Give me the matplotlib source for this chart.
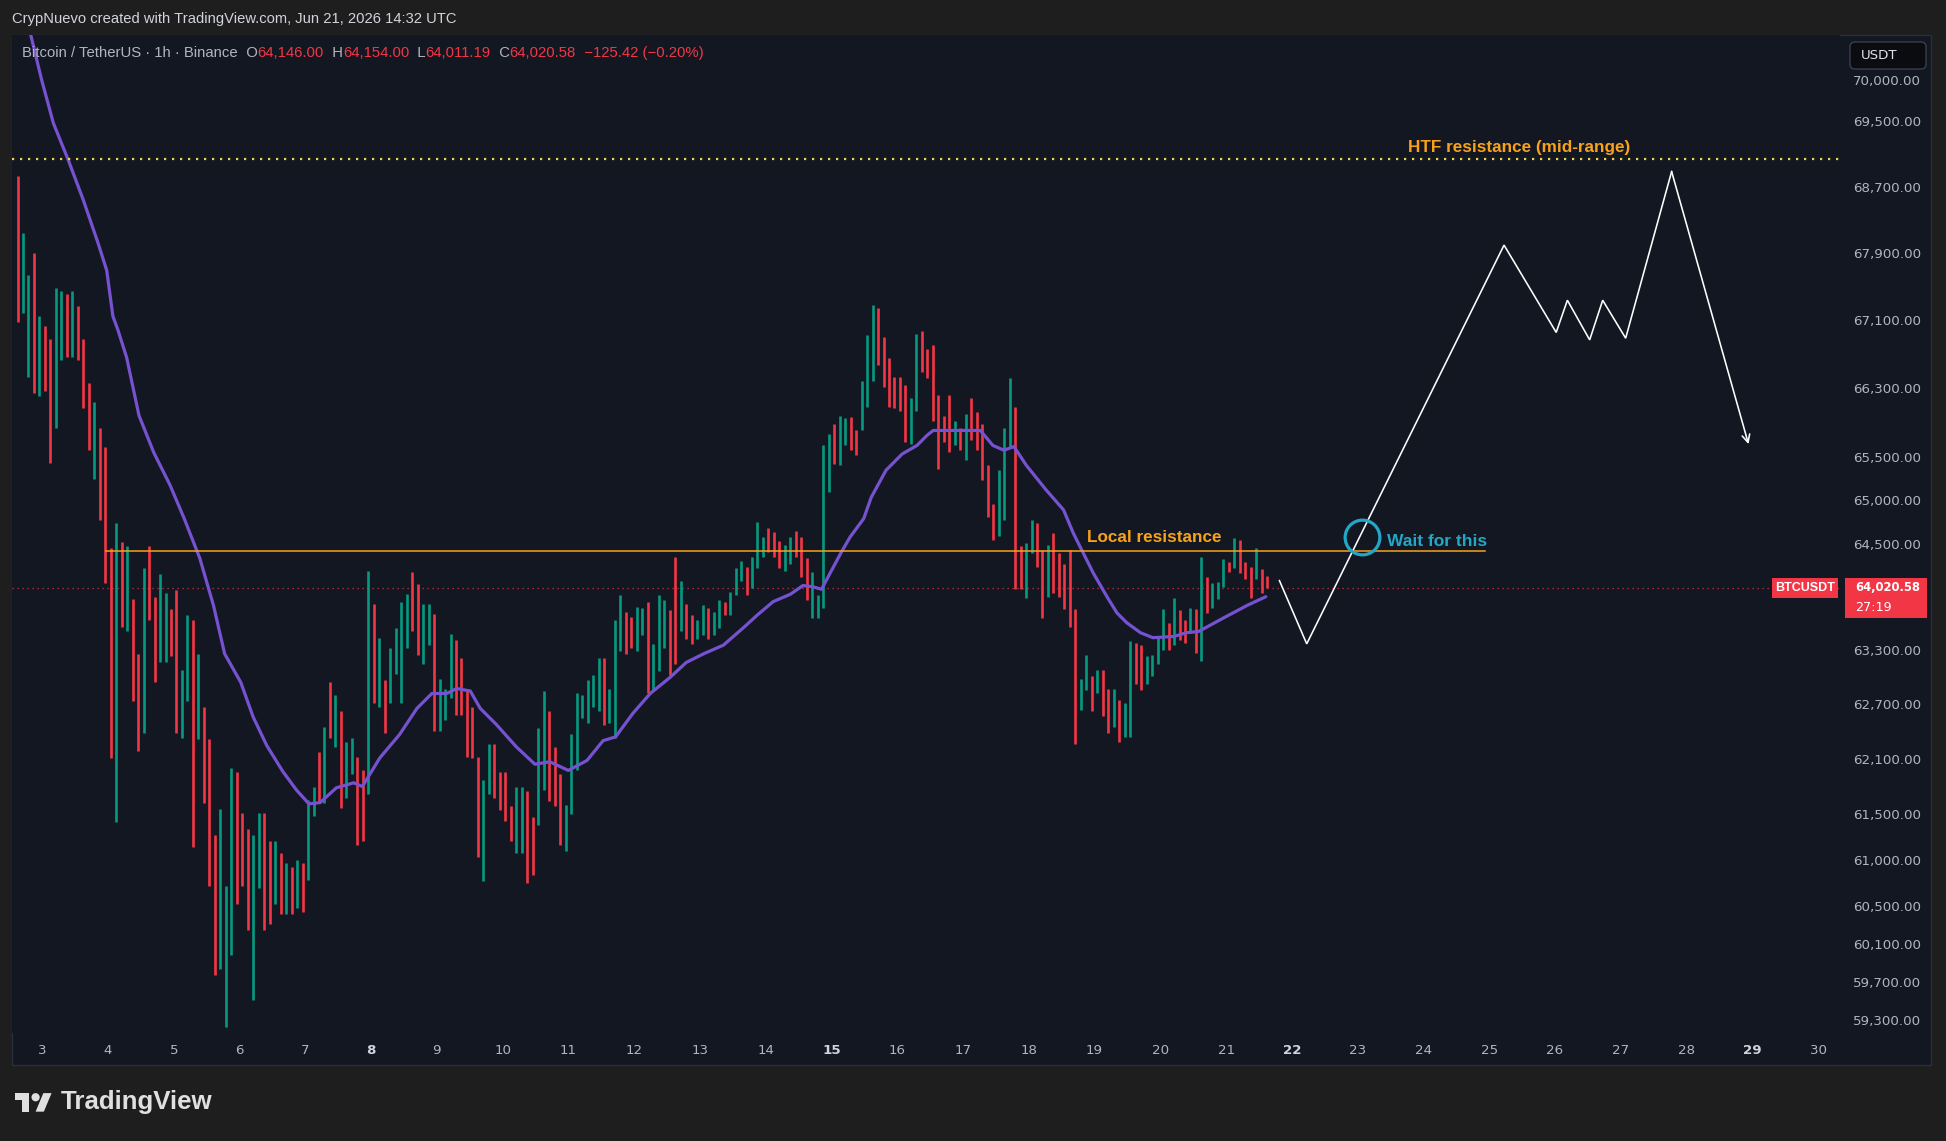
import numpy as np
import matplotlib
matplotlib.use("Agg")
import matplotlib.pyplot as plt
from matplotlib.patches import Rectangle, FancyBboxPatch, Polygon, Circle
from matplotlib.transforms import IdentityTransform

plt.rcParams['font.family'] = ['DejaVu Sans']

# ---------------- data ----------------
# 2-hour BTCUSDT candles starting Jun 2, 14:00 UTC (x axis = day of June)
start_day = 2 + 14 / 24
bar_days = 2 / 24

highs = [
    68845, 68155, 67648, 67916, 67161, 67044, 66897, 67500, 67456, 67426,
    67456, 67279, 66897, 66372, 66154, 65850, 65634, 64466, 64749, 64536,
    64494, 63889, 63276, 64240, 64494, 63917, 64170, 63959, 63777, 63987,
    63096, 63707, 63651, 63276, 62683, 62327, 61285, 61567, 60737, 62014,
    61973, 61527, 61352, 61285, 61527, 61527, 61218, 61218, 61084, 60977,
    60937, 61017, 60977, 61661, 61810, 62190, 62463, 62958, 62820, 62642,
    62299, 62340, 62136, 61986, 64212, 63833, 63456, 62986, 63345, 63567,
    63861, 63945, 64198, 64057, 63833, 63833, 63721, 63000, 62889, 63498,
    63429, 63234, 62861, 62683, 62136, 61878, 62272, 62272, 61973, 61973,
    61594, 61810, 61810, 61756, 61473, 62449, 62861, 62642, 62245, 61946,
    61608, 62381, 62834, 62820, 62986, 63041, 63234, 63234, 62889, 63651,
    63931, 63749, 63693, 63805, 63791, 63861, 63387, 63931, 63875, 63763,
    64367, 64099, 63833, 63707, 63651, 63819, 63791, 63749, 63875, 63861,
    63973, 64240, 64325, 64254, 64367, 64763, 64593, 64692, 64649, 64550,
    64508, 64593, 64663, 64593, 64353, 64198, 63931, 65648, 65778, 65893,
    65994, 65965, 65979, 65821, 66400, 66941, 67294, 67264, 66912, 66663,
    66444, 66444, 66357, 66197, 66956, 66985, 66780, 66824, 66240, 65994,
    66240, 65936, 65850, 66009, 66197, 66038, 65893, 65418, 64976, 65361,
    65850, 66429, 66096, 64494, 64522, 64791, 64749, 64451, 64508, 64635,
    64409, 64282, 64451, 63777, 63000, 63262, 63027, 63096, 63096, 62889,
    62889, 62765, 62724, 63415, 63401, 63373, 63248, 63262, 63470, 63777,
    63623, 63903, 63763, 63651, 63791, 63777, 64367, 64141, 64071, 64085,
    64339, 64311, 64578, 64564, 64311, 64254, 64466, 64226, 64154,
]
lows = [
    67088, 67205, 66444, 66255, 66226, 66284, 65447, 65850, 66648, 66677,
    66677, 66648, 66082, 65591, 65261, 64791, 64071, 62122, 61419, 63581,
    63526, 62751, 62204, 62395, 63651, 62958, 63179, 63179, 63248, 62395,
    62340, 62751, 61151, 62327, 61635, 60737, 59786, 59852, 59239, 59996,
    60537, 60737, 60260, 59525, 60710, 60260, 60326, 60537, 60432, 60432,
    60432, 60498, 60458, 60803, 61486, 61635, 61635, 62340, 62245, 61581,
    61688, 61946, 61178, 61218, 61729, 62724, 62683, 62395, 62724, 63055,
    62724, 63345, 63526, 63262, 63165, 63373, 62422, 62422, 62545, 62779,
    62600, 62600, 62136, 62122, 61044, 60790, 61729, 61688, 61554, 61432,
    61218, 61084, 61084, 60763, 60856, 61392, 61770, 61648, 61594, 61178,
    61111, 61513, 61986, 62559, 62504, 62683, 62642, 62490, 62504, 62340,
    63304, 63276, 63345, 63304, 63484, 62834, 62861, 63082, 63345, 63041,
    63165, 63526, 63443, 63387, 63443, 63484, 63443, 63484, 63567, 63707,
    63707, 63931, 64099, 63931, 64015, 64240, 64367, 64423, 64367, 64240,
    64212, 64282, 64367, 64141, 63875, 63679, 63679, 63791, 65104, 65433,
    65418, 65648, 65591, 65533, 65821, 66096, 66400, 66590, 66328, 66096,
    66082, 66053, 65692, 65663, 66053, 66502, 66429, 65936, 65376, 65692,
    65576, 65648, 65591, 65476, 65706, 65591, 65247, 64820, 64564, 64607,
    64791, 65634, 64001, 64001, 63903, 64409, 64254, 63679, 63917, 63959,
    63917, 63777, 63581, 62272, 62655, 62875, 62642, 62834, 62587, 62395,
    62463, 62299, 62354, 62354, 62944, 62875, 62944, 63027, 63165, 63318,
    63318, 63373, 63429, 63401, 63512, 63290, 63193, 63735, 63791, 63889,
    64029, 64198, 64240, 64184, 64113, 63903, 64113, 63959, 64011,
]
# 'g' = close above open (teal), 'r' = close below open (red)
directions = list(
    "rggrgrrggr" "grrrgrrrgr" "grrgrrggrr" "ggrgrrrggg" "rrrggrrgrg"
    "rgrggrgrgr" "ggrrgrgrgg" "ggrrggrggg" "rrrrrggrrr" "rggrrggrrr"
    "gggggggrgg" "grrggrgggr" "rgrrggrggr" "gggrgggrrr" "ggrrrggggr"
    "ggrrgggrrr" "rrrggrrrrr" "rgrgrrrrrg" "ggrrggrrgr" "rrrrggrgrr"
    "grggrrgggg" "rgrrgrgrgg" "grgrrrgrr"
)

# moving average (purple line)
ma_days = [2.736, 2.825, 2.992, 3.170, 3.396, 3.623, 3.849, 3.981, 4.075, 4.151,
           4.283, 4.472, 4.698,
           4.943, 5.151, 5.396, 5.604, 5.774, 6.019, 6.208, 6.415, 6.660, 6.868,
           7.057, 7.226, 7.472, 7.736, 7.868, 8.132, 8.434, 8.698, 8.925, 9.151,
           9.302, 9.509, 9.660, 9.906, 10.208, 10.491, 10.717, 11.000, 11.283, 11.528,
           11.717, 11.981, 12.245, 12.547, 12.792, 13.057, 13.358, 13.660, 13.868, 14.113,
           14.377, 14.566, 14.717, 14.849, 15.000, 15.151, 15.283, 15.491, 15.604, 15.830,
           16.075, 16.302, 16.453, 16.547, 16.811, 17.264, 17.453, 17.623, 17.774, 17.962,
           18.264, 18.528, 18.679, 18.830, 18.981, 19.189, 19.340, 19.491, 19.698, 19.887,
           20.208, 20.396, 20.585, 20.755, 21.000, 21.321, 21.604]
ma_values = [70884, 70585, 70023, 69491, 69041, 68559, 68036, 67708, 67162, 67000,
             66677, 65994, 65562,
             65190, 64820, 64353, 63819, 63276, 62958, 62573, 62258, 61973, 61770,
             61621, 61635, 61796, 61851, 61810, 62122, 62381, 62669, 62834, 62834,
             62889, 62861, 62669, 62490, 62245, 62054, 62081, 61986, 62095, 62313,
             62354, 62614, 62834, 63013, 63179, 63276, 63373, 63567, 63707, 63861,
             63945, 64043, 64029, 64001, 64212, 64423, 64593, 64805, 65047, 65361,
             65548, 65648, 65764, 65821, 65821, 65821, 65648, 65591, 65634, 65418,
             65133, 64905, 64635, 64409, 64184, 63917, 63735, 63623, 63512, 63456,
             63470, 63512, 63526, 63595, 63693, 63819, 63917]

# projected path (white drawing)
proj_days = [21.811, 22.226, 25.226, 26.019, 26.189, 26.528, 26.726, 27.075, 27.774, 28.943]
proj_prices = [64099, 63387, 68011, 66970, 67352, 66882, 67352, 66902, 68900, 65662]

htf_resistance = 69050
local_resistance = 64440
local_res_days = [3.97, 24.93]
last_price = 64020.58
wait_day, wait_price = 23.07, 64593
last_ohlc = ["64,146.00", "64,154.00", "64,011.19", "64,020.58"]
change_text = "\u2212125.42 (\u22120.20%)"

price_ticks = [70000, 69500, 68700, 67900, 67100, 66300, 65500, 65000, 64500,
               63300, 62700, 62100, 61500, 61000, 60500, 60100, 59700, 59300]
day_ticks = list(range(3, 31))
bold_days = [8, 15, 22, 29]

# ---------------- style ----------------
W, H = 1946, 1141
BG = "#1e1e1e"
PANEL = "#131722"
UP = "#089981"
DOWN = "#f23645"
AXIS_TXT = "#b2b5be"
ORANGE = "#f7a21b"
CYAN = "#22a7c6"
MA_COL = "#7652d0"
LABEL_FONT = ["Liberation Sans", "DejaVu Sans"]

fig = plt.figure(figsize=(W / 100, H / 100), dpi=100, facecolor=BG)
fig.patches.append(Rectangle((12 / W, 1 - 1065 / H), (1931 - 12) / W, (1065 - 35) / H,
                             transform=fig.transFigure, fc=PANEL, ec="#2a2e39",
                             lw=1, zorder=-10))

ax_l, ax_r, ax_t, ax_b = 12.4, 1840.4, 34.7, 1032.5
ax = fig.add_axes([ax_l / W, 1 - ax_b / H, (ax_r - ax_l) / W, (ax_b - ax_t) / H])
ax.set_facecolor(PANEL)
ax.set_yscale("log")
ax.set_xlim(2.547, 30.34)
ax.set_ylim(59183, 70585)
ax.yaxis.set_major_locator(plt.NullLocator())
ax.yaxis.set_minor_locator(plt.NullLocator())
ax.xaxis.set_major_locator(plt.NullLocator())
ax.tick_params(which="both", length=0, labelleft=False, labelbottom=False)
for s in ax.spines.values():
    s.set_visible(False)

# candles
n = len(highs)
t = start_day + bar_days * np.arange(n) + bar_days / 2
cols = [UP if d == "g" else DOWN for d in directions]
ax.vlines(t, lows, highs, colors=cols, lw=1.9, zorder=2)

# moving average
ax.plot(ma_days, ma_values, color=MA_COL, lw=2.3, zorder=3, solid_capstyle="round",
        solid_joinstyle="round")

# levels
ax.axhline(htf_resistance, color="#efd54a", lw=1.6, ls=(0, (1, 2.6)), zorder=4)
ax.axhline(last_price, color=DOWN, lw=0.9, ls=(0, (1, 3)), alpha=0.85, zorder=1)
ax.plot(local_res_days, [local_resistance] * 2, color=ORANGE, lw=1.1, zorder=4)

# projection
ax.plot(proj_days[:-1], proj_prices[:-1], color="white", lw=1.15, zorder=5,
        solid_joinstyle="miter")
ax.annotate("", xy=(proj_days[-1], proj_prices[-1]),
            xytext=(proj_days[-2], proj_prices[-2]),
            arrowprops=dict(arrowstyle="->", color="white", lw=1.15,
                            shrinkA=0, shrinkB=0, mutation_scale=14), zorder=5)

# annotations
ax.annotate("HTF resistance (mid-range)", xy=(25.45, htf_resistance), xytext=(0, 5.4),
            textcoords="offset points", ha="center", va="baseline", color=ORANGE,
            fontsize=12.3, fontweight="bold", family=LABEL_FONT, zorder=6)
ax.annotate("Local resistance", xy=(19.906, local_resistance), xytext=(0, 6.2),
            textcoords="offset points", ha="center", va="baseline", color=ORANGE,
            fontsize=12.3, fontweight="bold", family=LABEL_FONT, zorder=6)
ax.plot([wait_day], [wait_price], marker="o", ms=25, mfc="none", mec=CYAN, mew=2.3,
        zorder=6)
ax.annotate("Wait for this", xy=(23.44, local_resistance), xytext=(0, 3.6),
            textcoords="offset points", ha="left", va="baseline", color=CYAN,
            fontsize=12.5, fontweight="bold", family=LABEL_FONT, zorder=6)

# price axis labels
ytr = ax.get_yaxis_transform()
xlab = (1921 - ax_l) / (ax_r - ax_l)
for p in price_ticks:
    ax.text(xlab, p, f"{p:,.2f}", transform=ytr, ha="right", va="center",
            color=AXIS_TXT, fontsize=9.6, clip_on=False)

# time axis labels
xtr = ax.get_xaxis_transform()
ylab = -(1050.5 - ax_b) / (ax_b - ax_t)
for d in day_ticks:
    b = d in bold_days
    ax.text(d, ylab, str(d), transform=xtr, ha="center", va="center",
            color="#d1d4dc" if b else AXIS_TXT, fontsize=9.6,
            fontweight="bold" if b else "normal", clip_on=False)

# last price labels on the axis
yp = ax.transData.transform((10, last_price))[1]
idt = IdentityTransform()
fig.patches.append(Rectangle((1845, yp - 30), 82, 40, transform=idt, fc=DOWN, ec="none"))
fig.patches.append(Rectangle((1772, yp - 10), 66, 20, transform=idt, fc=DOWN, ec="none"))
fig.text(1855, yp, last_ohlc[3], transform=idt, ha="left", va="center",
         color="white", fontsize=8.4, fontweight="bold")
fig.text(1855, yp - 20, "27:19", transform=idt, ha="left", va="center",
         color="white", fontsize=9.2)
fig.text(1805, yp, "BTCUSDT", transform=idt, ha="center", va="center",
         color="white", fontsize=9, fontweight="bold", family=LABEL_FONT)

# currency box
fig.patches.append(FancyBboxPatch((1850, H - 69), 76, 27, transform=idt,
                                  boxstyle="round,pad=0,rounding_size=5",
                                  fc="#0b0c10", ec="#3a3e48", lw=1))
fig.text(1861, H - 55.5, "USDT", transform=idt, ha="left", va="center",
         color="#e0e3eb", fontsize=9.6)

# header
fig.text(12 / W, 1 - 19 / H, "CrypNuevo created with TradingView.com, Jun 21, 2026 14:32 UTC",
         ha="left", va="center", color="#d1d4dc", fontsize=10.6, family=LABEL_FONT)

# legend line
parts = [("Bitcoin / TetherUS \u00b7 1h \u00b7 Binance", AXIS_TXT),
         ("  O", AXIS_TXT), (last_ohlc[0], DOWN),
         ("  H", AXIS_TXT), (last_ohlc[1], DOWN),
         ("  L", AXIS_TXT), (last_ohlc[2], DOWN),
         ("  C", AXIS_TXT), (last_ohlc[3], DOWN),
         ("  " + change_text, DOWN)]
prev = fig.text(22 / W, 1 - 53 / H, parts[0][0], ha="left", va="center",
                color=parts[0][1], fontsize=10.75, family=LABEL_FONT)
for txt, c in parts[1:]:
    prev = ax.annotate(txt, xy=(1, 0.5), xycoords=prev, ha="left", va="center",
                       color=c, fontsize=10.75, family=LABEL_FONT, annotation_clip=False)

# TradingView logo
s = 1.03
ox, oy = 15, 1089
def P(u, v):
    return (ox + s * u, H - (oy + s * v))
fig.patches.append(Polygon([P(0, 4), P(14, 4), P(14, 22), P(7, 22), P(7, 11), P(0, 11)],
                           closed=True, transform=idt, fc="#e0e0e0", ec="none"))
fig.patches.append(Circle(P(20, 8), 4 * s, transform=idt, fc="#e0e0e0", ec="none"))
fig.patches.append(Polygon([P(20, 22), P(28, 22), P(35.5, 4), P(27.5, 4)],
                           closed=True, transform=idt, fc="#e0e0e0", ec="none"))
fig.text(61, H - 1102, "TradingView", transform=idt, ha="left", va="center",
         color="#e0e0e0", fontsize=18.6, fontweight="bold", family=LABEL_FONT)

fig.savefig("out.png", dpi=100, facecolor=BG)
